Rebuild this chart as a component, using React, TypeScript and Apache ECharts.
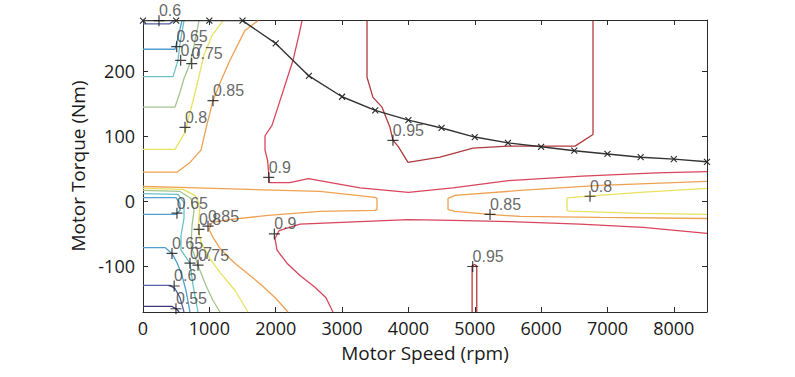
import React, { useEffect, useRef } from "react";
import * as echarts from "echarts";

// Axis ticks
const speedTicks = [0, 1000, 2000, 3000, 4000, 5000, 6000, 7000, 8000];
const torqueTicks = [-100, 0, 100, 200];

// Maximum torque envelope (rpm, Nm)
const envRpm = [0, 500, 1000, 1500, 2000, 2500, 3000, 3500, 4000, 4500, 5000, 5500, 6000, 6500, 7000, 7500, 8000, 8500];
const envTorque = [278, 278, 278, 278, 243, 193, 161, 140, 125, 113, 99, 90, 84, 78, 73, 68, 65, 61];

// Contour lines, [rpm, Nm]
const c060a = [[0, 273], [400, 273], [470, 278]];
const c065a = [[0, 234], [482, 234], [527, 252], [588, 278]];
const c070a = [[0, 192], [452, 192], [527, 217], [558, 243], [618, 278]];
const c075a = [[0, 145], [482, 145], [558, 168], [618, 189], [708, 212], [769, 240], [844, 278]];
const c080a = [[0, 80], [482, 80], [633, 106], [678, 125], [754, 155], [829, 186], [919, 225], [1040, 255], [1206, 278]];
const c085a = [[0, 45], [512, 45], [708, 60], [874, 79], [949, 112], [1055, 155], [1176, 186], [1311, 217], [1537, 263], [1733, 278]];
const c090a = [[2396, 278], [2366, 263], [2261, 217], [2065, 155], [1944, 117], [1839, 101], [1839, 79], [1878, 63], [1906, 29], [2212, 29], [2493, 35], [2827, 29], [3273, 21], [4000, 14], [4669, 21], [5507, 32], [6622, 39], [7739, 44], [8500, 46]];
const c095a = [[3376, 278], [3376, 191], [3466, 160], [3602, 145], [3722, 114], [3767, 94], [3843, 85], [3994, 60], [4476, 68], [4973, 82], [5501, 85], [5953, 85], [6511, 85], [6782, 103], [6782, 278]];
const c095b = [[4960, -170], [4960, -99], [4995, -97], [5030, -99], [5030, -170]];
const c085b = [[0, 23], [558, 21.5], [1598, 18.5], [2668, 15.4], [3496, 6.2], [3527, 4.6], [3527, -12.3], [3496, -13.8], [2668, -15.4], [1884, -21.5], [1326, -27.7], [1040, -32.3], [995, -43.1], [1055, -55.4], [1160, -72.3], [1371, -93.8], [1613, -113.8], [1793, -129.2], [2004, -149.2], [2185, -170]];
const c085c = [[8500, 30.8], [6887, 24.6], [5682, 16.9], [4702, 9.2], [4597, 4.6], [4597, -12.3], [4702, -15.4], [5230, -20], [5682, -23.1], [6887, -24.6], [8500, -26.2]];
const c080b = [[8500, 20], [7490, 14], [6435, 6], [6390, 5], [6390, -14], [6435, -15], [7490, -18.5], [8500, -20]];
const c090b = [[2863, -170], [2758, -148], [2592, -132], [2366, -114], [2170, -95], [2020, -75], [1989, -57], [2050, -45], [2366, -35], [3270, -31], [3994, -28], [4672, -29], [5531, -31], [6586, -35], [7536, -40], [8500, -49]];
const c080c = [[0, 20], [603, 18.5], [784, 9], [859, -6], [844, -26], [829, -42], [874, -63], [1010, -88], [1160, -109], [1387, -137], [1582, -170]];
const c075b = [[0, 17], [558, 15.4], [723, 4.6], [769, -13.8], [739, -36.9], [723, -67.7], [829, -98.5], [949, -129.2], [1055, -152.3], [1160, -170]];
const c070b = [[0, 12], [527, 11], [618, -2], [618, -26], [573, -52], [573, -75], [708, -95], [754, -129], [829, -170]];
const c065b = [[0, 6], [497, 6], [558, -3], [558, -14], [497, -20], [0, -20]];
const c065c = [[0, -71], [332, -71], [437, -80], [512, -94], [588, -114], [648, -137], [708, -170]];
const c060b = [[0, -129], [407, -129], [482, -134], [558, -148], [618, -170]];
const c055a = [[0, -161.5], [437, -161.5], [512, -166], [543, -170]];

// Contour label positions
const labelText = ["0.6", "0.65", "0.7", "0.75", "0.8", "0.85", "0.9", "0.95", "0.9", "0.85", "0.8", "0.95", "0.65", "0.8", "0.85", "0.65", "0.7", "0.75", "0.6", "0.55"];
const labelRpm = [241, 508, 568, 734, 633, 1055, 1895, 3767, 1980, 5230, 6737, 4969, 512, 844, 980, 437, 708, 829, 470, 497];
const labelTorque = [278, 238, 217, 212, 114, 155, 37, 94, -50, -20, 8, -100, -18, -43, -38, -80, -95, -98, -130, -165];

const levelColor: Record<string, string> = {
  "0.55": "#3d3680",
  "0.6": "#5460a8",
  "0.65": "#4f9fd0",
  "0.7": "#6cc2c6",
  "0.75": "#a3c48e",
  "0.8": "#e8e25e",
  "0.85": "#efa152",
  "0.9": "#d8455c",
  "0.95": "#b23a3e",
};

const contours: [string, number[][]][] = [
  ["0.6", c060a], ["0.65", c065a], ["0.7", c070a], ["0.75", c075a], ["0.8", c080a], ["0.85", c085a],
  ["0.9", c090a], ["0.95", c095a], ["0.95", c095b], ["0.85", c085b], ["0.85", c085c], ["0.8", c080b],
  ["0.9", c090b], ["0.8", c080c], ["0.75", c075b], ["0.7", c070b], ["0.65", c065b], ["0.65", c065c],
  ["0.6", c060b], ["0.55", c055a],
];

const FONT = "'Open Sans', 'Noto Sans', sans-serif";

export default function App() {
  const ref = useRef<HTMLDivElement>(null);
  useEffect(() => {
    if (!ref.current) return;
    const chart = echarts.init(ref.current, null, { renderer: "svg" });
    const axisLine = { show: true, onZero: false, lineStyle: { color: "#2a2a2a", width: 1 } };
    const series: any[] = contours.map(([lvl, pts]) => ({
      type: "line",
      data: pts,
      showSymbol: false,
      silent: true,
      clip: false,
      lineStyle: { color: levelColor[lvl], width: 1.3 },
      z: 2,
    }));
    series.push({
      type: "line",
      data: envRpm.map((r, i) => [r, envTorque[i]]),
      symbol: "path://M0 0L10 10M10 0L0 10",
      symbolSize: 6,
      showSymbol: true,
      clip: false,
      itemStyle: { color: "#2a2a2a", borderColor: "#2a2a2a", borderWidth: 1.1 },
      lineStyle: { color: "#333", width: 1.4 },
      z: 4,
    });
    series.push({
      type: "scatter",
      clip: false,
      data: labelText.map((t, i) => ({ name: t, value: [labelRpm[i], labelTorque[i]] })),
      symbol: "path://M5 0L5 10M0 5L10 5",
      symbolSize: 11,
      itemStyle: { color: "#111", borderColor: "#111", borderWidth: 1.2 },
      label: {
        show: true,
        formatter: "{b}",
        position: [6, -4],
        align: "left",
        verticalAlign: "middle",
        fontFamily: "'Liberation Sans', Arial, sans-serif",
        fontSize: 16,
        color: "#404040",
      },
      z: 5,
    });
    const plain = (v: number) => String(v);
    chart.setOption({
      animation: false,
      backgroundColor: "#ffffff",
      grid: { left: 143, top: 20, width: 564, height: 292 },
      xAxis: [
        {
          type: "value", min: 0, max: 8500, position: "bottom",
          name: "Motor Speed (rpm)", nameLocation: "middle", nameGap: 31,
          nameTextStyle: { fontFamily: FONT, fontSize: 19, color: "#1a1a1a" },
          axisLine,
          axisTick: { show: true, inside: true, length: 5, customValues: speedTicks, lineStyle: { color: "#2a2a2a" } },
          axisLabel: { show: true, customValues: speedTicks, formatter: plain, fontFamily: FONT, fontSize: 18, color: "#1a1a1a", margin: 7 },
          splitLine: { show: false },
        },
        {
          type: "value", min: 0, max: 8500, position: "top",
          axisLine,
          axisTick: { show: true, inside: true, length: 5, customValues: speedTicks, lineStyle: { color: "#2a2a2a" } },
          axisLabel: { show: false },
          splitLine: { show: false },
        },
      ],
      yAxis: [
        {
          type: "value", min: -170, max: 279, position: "left",
          name: "Motor Torque (Nm)", nameLocation: "middle", nameGap: 45,
          nameTextStyle: { fontFamily: FONT, fontSize: 19, color: "#1a1a1a" },
          axisLine,
          axisTick: { show: true, inside: true, length: 5, customValues: torqueTicks, lineStyle: { color: "#2a2a2a" } },
          axisLabel: { show: true, customValues: torqueTicks, formatter: plain, fontFamily: FONT, fontSize: 18, color: "#1a1a1a", margin: 8 },
          splitLine: { show: false },
        },
        {
          type: "value", min: -170, max: 279, position: "right",
          axisLine,
          axisTick: { show: true, inside: true, length: 5, customValues: torqueTicks, lineStyle: { color: "#2a2a2a" } },
          axisLabel: { show: false },
          splitLine: { show: false },
        },
      ],
      series,
    });
    return () => chart.dispose();
  }, []);
  return <div ref={ref} style={{ width: 795, height: 377, position: "absolute", left: 0, top: 0 }} />;
}
